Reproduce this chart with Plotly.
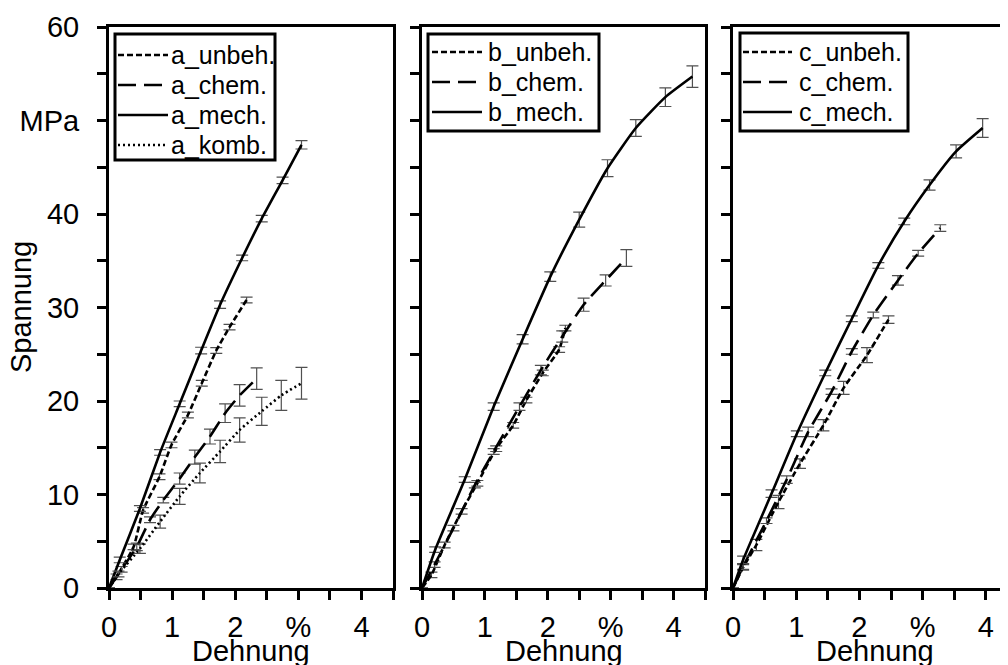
import plotly.graph_objects as go

# ---- data (strain %, stress MPa, error MPa) ----
a_unbeh_x = [0, 0.12, 0.39, 0.54, 0.80, 0.99, 1.25, 1.47, 1.70, 1.91, 2.18]
a_unbeh_y = [0, 1.2, 4.4, 8.3, 11.9, 15.3, 18.5, 21.9, 25.4, 27.9, 30.8]
a_unbeh_e = [None, 0.3, 0.3, 0.3, 0.3, 0.3, 0.3, 0.3, 0.3, 0.3, 0.3]

a_chem_x = [0, 0.20, 0.44, 0.65, 0.86, 1.12, 1.36, 1.60, 1.84, 2.07, 2.34]
a_chem_y = [0, 2.0, 4.4, 7.3, 9.4, 11.7, 14.0, 16.2, 18.7, 20.6, 22.4]
a_chem_e = [None, 0.3, 0.4, 0.3, 0.3, 0.6, 0.75, 0.8, 1.0, 1.15, 1.15]

a_mech_x = [0, 0.17, 0.49, 0.81, 1.12, 1.46, 1.76, 2.11, 2.42, 2.75, 3.05]
a_mech_y = [0, 3.0, 8.5, 14.5, 19.7, 25.4, 30.3, 35.3, 39.5, 43.6, 47.4]
a_mech_e = [None, 0.3, 0.3, 0.3, 0.3, 0.35, 0.4, 0.3, 0.35, 0.35, 0.45]

a_komb_x = [0, 0.15, 0.49, 0.81, 1.12, 1.44, 1.76, 2.07, 2.42, 2.73, 3.05]
a_komb_y = [0, 1.5, 4.2, 7.1, 9.8, 12.3, 14.6, 16.9, 18.9, 20.6, 21.9]
a_komb_e = [None, 0.3, 0.5, 0.7, 0.85, 1.05, 1.2, 1.3, 1.5, 1.6, 1.7]

b_unbeh_x = [0, 0.15, 0.36, 0.63, 0.88, 1.18, 1.45, 1.66, 1.92, 2.18, 2.28]
b_unbeh_y = [0, 1.4, 4.6, 8.2, 11.2, 14.9, 17.4, 20.1, 23.0, 25.5, 27.8]
b_unbeh_e = [None, 0.3, 0.3, 0.3, 0.3, 0.3, 0.3, 0.3, 0.3, 0.3, 0.3]

b_chem_x = [0, 0.20, 0.50, 0.84, 1.14, 1.55, 1.89, 2.23, 2.57, 2.92, 3.25]
b_chem_y = [0, 2.5, 6.4, 11.0, 14.6, 19.4, 23.3, 26.9, 30.3, 32.9, 35.3]
b_chem_e = [None, 0.3, 0.3, 0.3, 0.3, 0.4, 0.5, 0.6, 0.7, 0.6, 0.9]

b_mech_x = [0, 0.21, 0.68, 1.14, 1.60, 2.04, 2.50, 2.95, 3.40, 3.87, 4.30]
b_mech_y = [0, 4.1, 11.6, 19.4, 26.6, 33.3, 39.4, 44.9, 49.2, 52.5, 54.7]
b_mech_e = [None, 0.3, 0.3, 0.4, 0.5, 0.5, 0.8, 0.9, 0.9, 1.0, 1.15]

c_unbeh_x = [0, 0.16, 0.37, 0.72, 1.06, 1.43, 1.75, 2.12, 2.46]
c_unbeh_y = [0, 2.2, 4.6, 9.2, 13.3, 17.4, 21.4, 24.9, 28.7]
c_unbeh_e = [None, 0.3, 0.6, 0.7, 0.5, 0.6, 0.7, 0.8, 0.4]

c_chem_x = [0, 0.16, 0.53, 0.85, 1.19, 1.56, 1.88, 2.22, 2.61, 2.93, 3.28]
c_chem_y = [0, 2.3, 7.2, 11.6, 16.7, 21.0, 25.3, 29.2, 32.9, 35.8, 38.5]
c_chem_e = [None, 0.3, 0.3, 0.4, 0.5, 0.3, 0.3, 0.3, 0.5, 0.3, 0.35]

c_mech_x = [0, 0.16, 0.61, 1.01, 1.46, 1.88, 2.30, 2.71, 3.11, 3.53, 3.95]
c_mech_y = [0, 3.0, 10.1, 16.5, 23.0, 28.8, 34.5, 39.2, 43.1, 46.7, 49.2]
c_mech_e = [None, 0.4, 0.4, 0.3, 0.3, 0.3, 0.3, 0.35, 0.55, 0.7, 1.0]

x_tickvals = [0, 0.5, 1, 1.5, 2, 2.5, 3, 3.5, 4, 4.5]
x_ticktext = ["0", "", "1", "", "2", "", "%", "", "4", ""]
y_tickvals = [0, 5, 10, 15, 20, 25, 30, 35, 40, 45, 50, 55, 60]
y_ticktext = ["0", "", "10", "", "20", "", "30", "", "40", "", "MPa", "", "60"]

FONT = "Liberation Sans, Arial, sans-serif"
DASH = {"unbeh": "6px,3px", "chem": "18px,8px", "mech": "solid", "komb": "2px,3px"}

series = [
    ("a_unbeh.", a_unbeh_x, a_unbeh_y, a_unbeh_e, "unbeh", 1),
    ("a_chem.", a_chem_x, a_chem_y, a_chem_e, "chem", 1),
    ("a_mech.", a_mech_x, a_mech_y, a_mech_e, "mech", 1),
    ("a_komb.", a_komb_x, a_komb_y, a_komb_e, "komb", 1),
    ("b_unbeh.", b_unbeh_x, b_unbeh_y, b_unbeh_e, "unbeh", 2),
    ("b_chem.", b_chem_x, b_chem_y, b_chem_e, "chem", 2),
    ("b_mech.", b_mech_x, b_mech_y, b_mech_e, "mech", 2),
    ("c_unbeh.", c_unbeh_x, c_unbeh_y, c_unbeh_e, "unbeh", 3),
    ("c_chem.", c_chem_x, c_chem_y, c_chem_e, "chem", 3),
    ("c_mech.", c_mech_x, c_mech_y, c_mech_e, "mech", 3),
]

# page body has an 8px margin, so the figure is drawn 8px in and 8px down
OFF = 8
W, H = 1008 - OFF, 665 - OFF
TOP, BOTTOM = 27 - OFF, 588 - OFF          # plot area in figure pixels
PH = BOTTOM - TOP


def px_x(px):
    """reference-screen x pixel -> paper fraction"""
    return (px - OFF) / W


def px_y(py):
    """reference-screen y pixel -> paper fraction"""
    return (BOTTOM - (py - OFF)) / PH


fig = go.Figure()
for name, xs, ys, es, kind, p in series:
    suffix = "" if p == 1 else str(p)
    fig.add_trace(go.Scatter(
        x=xs, y=ys, name=name, mode="lines", showlegend=False,
        line=dict(color="black", width=2.6, dash=DASH[kind], shape="spline", smoothing=0.5),
        error_y=dict(type="data", array=es, visible=True, color="#505050", thickness=1.2, width=6),
        xaxis="x" + suffix, yaxis="y" + suffix,
    ))

domains = [(px_x(109), px_x(393)), (px_x(422), px_x(705)), (px_x(733), 1.0)]
xranges = [[0, 4.5], [0, 4.5], [0, (1008 - 733) / 63.2]]

layout = dict(
    width=W, height=H,
    margin=dict(l=0, r=0, t=TOP, b=H - BOTTOM, pad=0, autoexpand=False),
    paper_bgcolor="white", plot_bgcolor="white",
    font=dict(family=FONT, size=29, color="black"),
    showlegend=False,
)

for i in range(3):
    s = "" if i == 0 else str(i + 1)
    layout["xaxis" + s] = dict(
        domain=list(domains[i]), range=xranges[i], anchor="y" + s,
        tickmode="array", tickvals=x_tickvals, ticktext=x_ticktext,
        ticks="outside", ticklen=9, tickwidth=2.5, tickcolor="black",
        showline=True, linewidth=3, linecolor="black", mirror=True,
        showgrid=False, zeroline=False, ticklabelstandoff=2, automargin=False,
        tickfont=dict(family=FONT, size=29, color="black"),
    )
    layout["yaxis" + s] = dict(
        domain=[0, 1], range=[0, 60], anchor="x" + s,
        tickmode="array", tickvals=y_tickvals, ticktext=y_ticktext,
        ticks="outside", ticklen=9, tickwidth=2.5, tickcolor="black",
        showline=True, linewidth=3, linecolor="black", mirror=(i < 2),
        showgrid=False, zeroline=False, showticklabels=(i == 0),
        ticklabelstandoff=12, automargin=False,
        tickfont=dict(family=FONT, size=29, color="black"),
    )

fig.update_layout(**layout)

# ---- legends (one box per panel), reference pixel positions ----
legend_box = {1: (115, 275, 34, 160), 2: (428, 599, 34, 131), 3: (740, 908, 33, 131)}
legend_row0 = {1: 55, 2: 52, 3: 52}
legend_sample = {1: (118, 168), 2: (432, 482), 3: (743, 792)}
legend_text_x = {1: 169, 2: 486, 3: 797}
ROW = 30

shapes = []
annotations = []
for p in (1, 2, 3):
    x0, x1, y0, y1 = legend_box[p]
    shapes.append(dict(type="rect", xref="paper", yref="paper",
                       x0=px_x(x0), x1=px_x(x1), y0=px_y(y0), y1=px_y(y1),
                       line=dict(color="black", width=3), fillcolor="white", layer="above"))
    rows = [s for s in series if s[5] == p]
    for k, (name, _, _, _, kind, _) in enumerate(rows):
        yy = legend_row0[p] + k * ROW
        sx0, sx1 = legend_sample[p]
        shapes.append(dict(type="line", xref="paper", yref="paper",
                           x0=px_x(sx0), x1=px_x(sx1), y0=px_y(yy), y1=px_y(yy),
                           line=dict(color="black", width=2.6, dash=DASH[kind]), layer="above"))
        annotations.append(dict(text=name, x=px_x(legend_text_x[p]), y=px_y(yy),
                                xref="paper", yref="paper", xanchor="left", yanchor="middle",
                                showarrow=False, font=dict(family=FONT, size=25, color="black")))

annotations.append(dict(text="Spannung", x=px_x(21), y=px_y(307), xref="paper", yref="paper",
                        xanchor="center", yanchor="middle",
                        textangle=-90, showarrow=False, font=dict(family=FONT, size=29, color="black")))
for x_left in (109, 422, 733):
    cx = x_left + 63.2 * 2.25
    annotations.append(dict(text="Dehnung", x=px_x(cx), y=px_y(651),
                            xref="paper", yref="paper", xanchor="center", yanchor="middle",
                            showarrow=False, font=dict(family=FONT, size=29, color="black")))

fig.update_layout(shapes=shapes, annotations=annotations)

fig.write_html("out.html")
